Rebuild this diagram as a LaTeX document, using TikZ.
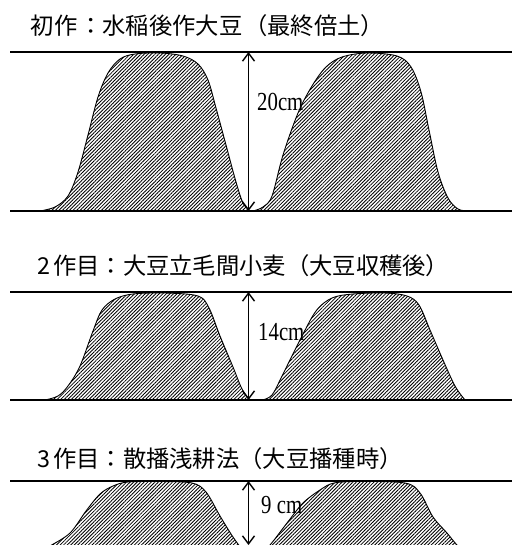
\documentclass[tikz,border=0pt]{standalone}
\usepackage{fontspec}
\newfontfamily\jpfont{Noto Sans CJK JP}
\newfontfamily\labelfont[FakeStretch=0.8]{Liberation Serif}
\usetikzlibrary{arrows.meta,patterns.meta}

% one hatched ridge: filled with diagonal lines, outlined along its curve
\newcommand\ridgemound[1]{%
  \fill[hatch] plot[smooth,tension=0.55] coordinates {#1} -- cycle;
  \draw[ridge] plot[smooth,tension=0.55] coordinates {#1};}

\begin{document}
\begin{tikzpicture}[x=1pt,y=-1pt,
  title/.style={anchor=west,inner sep=0pt,font=\jpfont\fontsize{23.3}{28}\selectfont},
  dimlabel/.style={anchor=west,inner sep=0pt,font=\labelfont\fontsize{26}{30}\selectfont},
  ground/.style={line width=1.3pt},
  ridge/.style={line width=0.9pt},
  hatch/.style={pattern={Lines[angle=45,distance=2.5pt,line width=0.85pt]}},
  dim/.style={line width=1.4pt,{Straight Barb[length=8pt,width=12pt,line width=1.4pt]}-{Straight Barb[length=8pt,width=12pt,line width=1.4pt]}}
]
\useasboundingbox (0,0) rectangle (512,545);
\clip (0,0) rectangle (512,545);

% ---------- first crop ----------
\node[title] (t1) at (30.5,26) {初作\hspace{2pt}：水稲後作大豆\hspace{2pt}（最終倍土）};
\coordinate (a1l) at (10,52);  \coordinate (a1r) at (512,52);
\coordinate (b1l) at (10,211); \coordinate (b1r) at (512,211);
\ridgemound{(40,211) (55,207) (68,196) (78,172) (88,135) (98,97) (108,73) (120,59) (135,54) (160,53) (183,56) (198,64) (208,80) (216,108) (226,145) (236,182) (243,203) (250,211)}
\ridgemound{(253,211) (263,207) (272,196) (283,155) (298,113) (312,86) (326,67) (342,57) (367,53) (397,56) (411,67) (421,92) (429,130) (438,172) (448,198) (458,209) (468,211)}
\draw[ground] (a1l) -- (a1r);
\draw[ground] (b1l) -- (b1r);
\coordinate (d1t) at (248.5,52); \coordinate (d1b) at (248.5,211);
\draw[dim] (d1t) -- (d1b);
\node[dimlabel] (l1) at (257,102) {20cm};

% ---------- second crop ----------
\node[title] (t2) at (37,266) {2\hspace{3pt}作目：大豆立毛間小麦（大豆収穫後）};
\coordinate (a2l) at (10,292);  \coordinate (a2r) at (512,292);
\coordinate (b2l) at (10,400);  \coordinate (b2r) at (512,400);
\ridgemound{(45,400) (58,396) (68,386) (80,366) (93,331) (102,310) (115,299) (133,294) (165,293) (198,296) (209,308) (220,336) (233,367) (242,389) (250,400)}
\ridgemound{(262,400) (272,395) (283,374) (300,340) (316,311) (332,298) (353,294) (385,293) (407,296) (419,305) (430,330) (443,360) (455,386) (465,400)}
\draw[ground] (a2l) -- (a2r);
\draw[ground] (b2l) -- (b2r);
\coordinate (d2t) at (248.5,292); \coordinate (d2b) at (248.5,400);
\draw[dim] (d2t) -- (d2b);
\node[dimlabel] (l2) at (258,332) {14cm};

% ---------- third crop ----------
\node[title] (t3) at (37,459) {3\hspace{3pt}作目：散播浅耕法（大豆播種時）};
\coordinate (a3l) at (10,481);  \coordinate (a3r) at (512,481);
\ridgemound{(38,553) (50,546) (70,533) (86,511) (100,494) (113,486) (128,482) (160,481.5) (192,483) (206,492) (220,516) (233,537) (243,550) (250,553)}
\ridgemound{(260,553) (270,545) (287,523) (303,503) (320,490) (334,483) (360,481.5) (405,483) (420,493) (433,517) (447,533) (457,545) (467,553)}
\draw[ground] (a3l) -- (a3r);
\coordinate (d3t) at (248.5,481); \coordinate (d3b) at (248.5,545);
\draw[dim] (d3t) -- (d3b);
\node[dimlabel] (l3) at (261,505) {9 cm};
\end{tikzpicture}
\end{document}
